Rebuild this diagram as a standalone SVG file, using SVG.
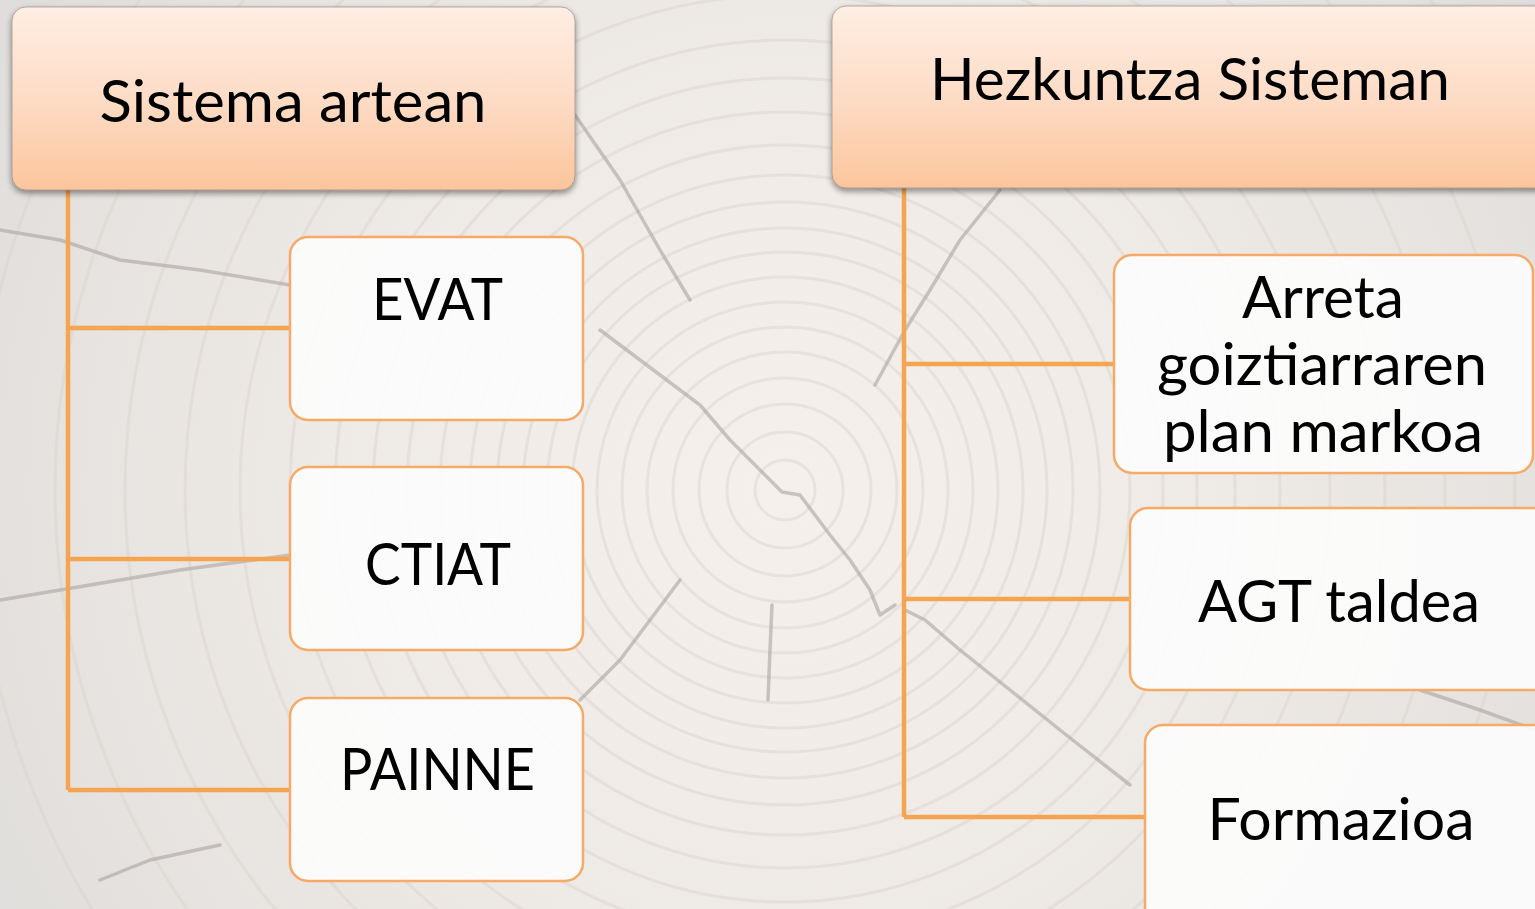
<svg xmlns="http://www.w3.org/2000/svg" width="1535" height="909" viewBox="0 0 1535 909">
<defs>
<radialGradient id="bg" cx="785" cy="490" r="900" gradientUnits="userSpaceOnUse">
<stop offset="0" stop-color="#f5f0ec"/>
<stop offset="0.5" stop-color="#eeeae6"/>
<stop offset="1" stop-color="#e0dedc"/>
</radialGradient>
<linearGradient id="hdr" x1="0" y1="0" x2="0" y2="1">
<stop offset="0" stop-color="#feeee4"/>
<stop offset="0.5" stop-color="#fddcc6"/>
<stop offset="1" stop-color="#fbc59c"/>
</linearGradient>
<filter id="sh" x="-10%" y="-10%" width="120%" height="130%">
<feGaussianBlur in="SourceAlpha" stdDeviation="3"/>
<feOffset dx="0" dy="3" result="b"/>
<feComponentTransfer><feFuncA type="linear" slope="0.45"/></feComponentTransfer>
<feMerge><feMergeNode/><feMergeNode in="SourceGraphic"/></feMerge>
</filter>
</defs>
<style>
.hdr{fill:url(#hdr);stroke:#8d7f76;stroke-opacity:0.6;stroke-width:1}
.box{fill:#fcfcfc;fill-opacity:0.93;stroke:#f6aa68;stroke-width:2.5}
.t{font-family:Lato,"Open Sans","Liberation Sans",sans-serif;font-size:58px;fill:#000;text-anchor:middle}
.ln{stroke:#f5a552;stroke-width:4.5;fill:none}
.ring{fill:none;stroke:#d9d2cc;stroke-width:3;stroke-opacity:0.45}
.crack{fill:none;stroke:#aaa4a1;stroke-width:3.5;stroke-linecap:round;stroke-linejoin:round;stroke-opacity:0.6}
</style>
<g id="background">
<rect width="1535" height="909" fill="url(#bg)"/>
<g>
<circle class="ring" cx="785" cy="490" r="30"/>
<circle class="ring" cx="785" cy="490" r="58"/>
<circle class="ring" cx="785" cy="490" r="86"/>
<circle class="ring" cx="785" cy="490" r="112"/>
<circle class="ring" cx="785" cy="490" r="138"/>
<circle class="ring" cx="785" cy="490" r="163"/>
<circle class="ring" cx="785" cy="490" r="188"/>
<circle class="ring" cx="785" cy="490" r="213"/>
<circle class="ring" cx="785" cy="490" r="238"/>
<circle class="ring" cx="785" cy="490" r="262"/>
<circle class="ring" cx="785" cy="490" r="288"/>
<circle class="ring" cx="785" cy="490" r="315"/>
<circle class="ring" cx="785" cy="490" r="345"/>
<circle class="ring" cx="785" cy="490" r="378"/>
<circle class="ring" cx="785" cy="490" r="412"/>
<circle class="ring" cx="785" cy="490" r="450"/>
<circle class="ring" cx="785" cy="490" r="495"/>
<circle class="ring" cx="785" cy="490" r="545"/>
<circle class="ring" cx="785" cy="490" r="600"/>
<circle class="ring" cx="785" cy="490" r="660"/>
<circle class="ring" cx="785" cy="490" r="730"/>
<circle class="ring" cx="785" cy="490" r="810"/>
</g>
<path class="crack" d="M600 330 L640 360 L700 405 L730 440 L760 470 L782 492 L800 495 L815 515 L830 535 L850 560 L870 590 L880 615 L895 605"/>
<path class="crack" d="M905 610 L925 620 L960 650 L1010 690 L1060 730 L1130 785"/>
<path class="crack" d="M575 115 L620 180 L660 250 L690 300"/>
<path class="crack" d="M1000 190 L960 240 L930 290 L905 330 L875 385"/>
<path class="crack" d="M680 580 L650 620 L620 660 L580 700"/>
<path class="crack" d="M772 605 L770 650 L768 700"/>
<path class="crack" d="M0 230 L60 240 L120 260 L200 270 L290 285"/>
<path class="crack" d="M0 600 L60 590 L120 580 L180 570 L290 555"/>
<path class="crack" d="M1420 690 L1480 710 L1535 730"/>
<path class="crack" d="M100 880 L150 860 L220 845"/>
</g>
<g id="connectors">
<path class="ln" d="M68 190 V790 M68 328 H290 M68 559 H290 M68 790 H290"/>
<path class="ln" d="M904 188 V817 M904 364 H1114 M904 599 H1130 M904 817 H1145"/>
</g>
<g id="node-sistema-artean">
<rect class="hdr" x="12" y="7" width="563" height="183" rx="14" filter="url(#sh)"/>
<text class="t" x="293" y="122" textLength="387" lengthAdjust="spacingAndGlyphs">Sistema artean</text>
</g>
<g id="node-hezkuntza-sisteman">
<rect class="hdr" x="832" y="6" width="720" height="182" rx="14" filter="url(#sh)"/>
<text class="t" x="1190" y="100" textLength="520" lengthAdjust="spacingAndGlyphs">Hezkuntza Sisteman</text>
</g>
<g id="node-evat">
<rect class="box" x="290" y="237" width="293" height="183" rx="18"/>
<text class="t" x="437.5" y="320" textLength="131" lengthAdjust="spacingAndGlyphs">EVAT</text>
</g>
<g id="node-ctiat">
<rect class="box" x="290" y="467" width="293" height="183" rx="18"/>
<text class="t" x="438" y="585" textLength="146" lengthAdjust="spacingAndGlyphs">CTIAT</text>
</g>
<g id="node-painne">
<rect class="box" x="290" y="698" width="293" height="183" rx="18"/>
<text class="t" x="437.5" y="790" textLength="195" lengthAdjust="spacingAndGlyphs">PAINNE</text>
</g>
<g id="node-arreta">
<rect class="box" x="1114" y="255" width="419" height="218" rx="18"/>
<text class="t" x="1323" y="318" textLength="162" lengthAdjust="spacingAndGlyphs">Arreta</text>
<text class="t" x="1322" y="385" textLength="330" lengthAdjust="spacingAndGlyphs">goiztiarraren</text>
<text class="t" x="1323" y="452" textLength="320" lengthAdjust="spacingAndGlyphs">plan markoa</text>
</g>
<g id="node-agt-taldea">
<rect class="box" x="1130" y="508" width="430" height="182" rx="18"/>
<text class="t" x="1339" y="622" textLength="282" lengthAdjust="spacingAndGlyphs">AGT taldea</text>
</g>
<g id="node-formazioa">
<rect class="box" x="1145" y="725" width="420" height="200" rx="18"/>
<text class="t" x="1341" y="840" textLength="267" lengthAdjust="spacingAndGlyphs">Formazioa</text>
</g>
</svg>
